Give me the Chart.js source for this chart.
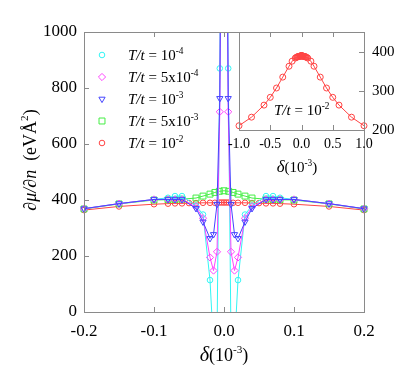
<!DOCTYPE html>
<html><head><meta charset="utf-8">
<script src="https://cdn.jsdelivr.net/npm/chart.js@4/dist/chart.umd.min.js"></script>
<style>
html,body{margin:0;padding:0;background:#fff;}
#wrap{position:relative;width:409px;height:384px;overflow:hidden;}
#main{position:absolute;left:0;top:0;}
#inset{position:absolute;left:200px;top:0;}
</style></head><body>
<div id="wrap"><canvas id="main" width="409" height="384"></canvas><canvas id="inset" width="209" height="180"></canvas></div>
<script>
// ---- data (delta in units of 10^-3, dmu/dn in eV A^2) ----
const deltaA = [-0.2,-0.15,-0.1,-0.08,-0.07,-0.06,-0.04,-0.03,-0.02,-0.015,-0.01,-0.006,0,0.006,0.01,0.015,0.02,0.03,0.04,0.06,0.07,0.08,0.1,0.15,0.2];
const cyanT1e4 = [369,387,402,408,414,414,380,348,114,-120,-100,870,3000,870,-100,-120,114,348,380,414,414,408,402,387,369];
const magT5e4  = [369,387,402,402,402,402,375,335,195,148,215,715,3000,715,215,148,195,335,375,402,402,402,402,387,369];
const blueT1e3 = [369,387,402,402,402,402,370,322,263,277,385,763,3000,763,385,277,263,322,370,402,402,402,402,387,369];
const deltaG = [-0.2,-0.15,-0.1,-0.08,-0.07,-0.06,-0.04,-0.03,-0.02,-0.013,-0.0067,0,0.0067,0.013,0.02,0.03,0.04,0.06,0.07,0.08,0.1,0.15,0.2];
const greenT5e3 = [368,386,400,401,402,403,407,414,421,427,431,433,431,427,421,414,407,403,402,401,400,386,368];
const deltaR = [-1,-0.8,-0.6,-0.5,-0.4,-0.3,-0.2,-0.15,-0.1,-0.08,-0.07,-0.06,-0.05,-0.04,-0.03,-0.02,-0.013,-0.0067,-0.0033,0,0.0033,0.0067,0.013,0.02,0.03,0.04,0.05,0.06,0.07,0.08,0.1,0.15,0.2,0.3,0.4,0.5,0.6,0.8,1];
const redT1e2 = [211,233,264,284,308,336,364,377,385,387,388,388,389,389,390,390,390,391,391,391,391,391,390,390,390,389,389,388,388,387,385,377,364,336,308,284,264,233,211];
const xTicksMain = [-0.2,-0.1,0,0.1,0.2];
const yTicksMain = [0,200,400,600,800,1000];
const xTicksInset = [-1,-0.5,0,0.5,1];
const yTicksInset = [200,300,400];
const legendLabels = [['5x','-4',''],['5x10','-4'],['10','-3'],['5x10','-3'],['10','-2']];

const SERIF = '"Liberation Serif","Times New Roman",serif';
const C = {cyan:'#33f5f5', mag:'#ff44ff', blue:'#4444ff', green:'#44ee44', red:'#ff4444'};
const GREY = '#8a8a8a';

function pts(xs, ys, lo, hi){
  const out=[];
  for(let i=0;i<xs.length;i++){ if(lo===undefined || (xs[i]>=lo-1e-9 && xs[i]<=hi+1e-9)) out.push({x:xs[i], y:ys[i]}); }
  return out;
}
function ds(label, xs, ys, color, style, r, order, rot, lo, hi){
  return {label, data:pts(xs,ys,lo,hi), borderColor:color, backgroundColor:'rgba(0,0,0,0)',
    pointBorderColor:color, pointBackgroundColor:'rgba(0,0,0,0)', pointStyle:style, pointRadius:r,
    pointRotation:rot||0, pointBorderWidth:1, borderWidth:1, tension:0, order,
    clip:{left:6,right:6,top:0,bottom:0}};
}

function drawRich(ctx, parts, x, y, size, align){
  const f = p => (p.i?'italic ':'') + (p.s ? (size*(p.sup?0.62:1)*p.s) : (size*(p.sup?0.62:1))).toFixed(1) + 'px ' + SERIF;
  let w=0;
  parts.forEach(p=>{ctx.font=f(p); p.w=ctx.measureText(p.t).width; w+=p.w;});
  let cx = align==='center' ? x-w/2 : x;
  ctx.textAlign='left'; ctx.textBaseline='alphabetic'; ctx.fillStyle='#000';
  parts.forEach(p=>{ctx.font=f(p); ctx.fillText(p.t, cx, p.sup ? y-size*0.42 : y); cx+=p.w;});
}

function marker(ctx, style, x, y, r, color, rot){
  ctx.save(); ctx.strokeStyle=color; ctx.lineWidth=1; ctx.beginPath();
  if(style==='circle'){ ctx.arc(x,y,r,0,Math.PI*2); }
  else if(style==='rectRot'){ ctx.moveTo(x,y-r); ctx.lineTo(x+r,y); ctx.lineTo(x,y+r); ctx.lineTo(x-r,y); ctx.closePath(); }
  else if(style==='rect'){ const h=r*Math.SQRT1_2; ctx.rect(x-h,y-h,2*h,2*h); }
  else if(style==='triangle'){ const s=rot?1:-1; ctx.moveTo(x, y - s*r*(-1)); 
    ctx.moveTo(x, y + (rot? r : -r)); ctx.lineTo(x + r*0.866, y + (rot? -r/2 : r/2)); ctx.lineTo(x - r*0.866, y + (rot? -r/2 : r/2)); ctx.closePath(); }
  ctx.stroke(); ctx.restore();
}

function framePlugin(sides){
  return {id:'frame'+Math.random(), afterDraw(chart){
    const ctx=chart.ctx, a=chart.chartArea, L=5;
    ctx.save(); ctx.strokeStyle=GREY; ctx.lineWidth=1;
    ctx.strokeRect(Math.round(a.left)+0.5, Math.round(a.top)+0.5, Math.round(a.right-a.left), Math.round(a.bottom-a.top));
    const xs=chart.scales.x, ys=chart.scales.y;
    ctx.beginPath();
    xs.ticks.forEach(t=>{ const px=Math.round(xs.getPixelForValue(t.value))+0.5;
      if(sides.includes('b')){ctx.moveTo(px,a.bottom); ctx.lineTo(px,a.bottom-L);}
      if(sides.includes('t')){ctx.moveTo(px,a.top); ctx.lineTo(px,a.top+L);} });
    ys.ticks.forEach(t=>{ const py=Math.round(ys.getPixelForValue(t.value))+0.5;
      if(sides.includes('l')){ctx.moveTo(a.left,py); ctx.lineTo(a.left+L,py);}
      if(sides.includes('r')){ctx.moveTo(a.right,py); ctx.lineTo(a.right-L,py);} });
    ctx.stroke(); ctx.restore();
  }};
}

const mainDatasets = [
  ds('T/t = 10^-4', deltaA, cyanT1e4, C.cyan, 'circle', 2.8, 2),
  ds('T/t = 5x10^-4', deltaA, magT5e4, C.mag, 'rectRot', 3.6, 1),
  ds('T/t = 10^-3', deltaA, blueT1e3, C.blue, 'triangle', 3.6, 0, 180),
  ds('T/t = 5x10^-3', deltaG, greenT5e3, C.green, 'rect', 4.2, 3),
  ds('T/t = 10^-2', deltaR, redT1e2, C.red, 'circle', 2.8, 4, 0, -0.2, 0.2)
];
const legendSpec = [
  {style:'circle', r:2.8, color:C.cyan, parts:[{t:'10'},{t:'-4',sup:true}]},
  {style:'rectRot', r:3.6, color:C.mag, parts:[{t:'5x10'},{t:'-4',sup:true}]},
  {style:'triangle', r:3.6, color:C.blue, rot:180, parts:[{t:'10'},{t:'-3',sup:true}]},
  {style:'rect', r:4.2, color:C.green, parts:[{t:'5x10'},{t:'-3',sup:true}]},
  {style:'circle', r:2.8, color:C.red, parts:[{t:'10'},{t:'-2',sup:true}]}
];

const mainDeco = {id:'mainDeco', afterDraw(chart){
  const ctx=chart.ctx;
  legendSpec.forEach((L,i)=>{
    const y=55+i*22;
    marker(ctx, L.style, 102, y, L.r, L.color, L.rot);
    drawRich(ctx, [{t:'T/t',i:true},{t:' = '}].concat(L.parts.map(p=>Object.assign({},p))), 128, y+5, 15, 'left');
  });
  // x title
  drawRich(ctx, [{t:'δ',i:true,s:1.12},{t:'(10'},{t:'-3',sup:true},{t:')'}], 224, 361, 18, 'center');
  // y title
  ctx.save(); ctx.translate(29,160); ctx.rotate(-Math.PI/2);
  drawRich(ctx, [{t:'∂μ/∂n',i:true},{t:'  (eVÅ'},{t:'2',sup:true},{t:')'}], 0, 7, 18, 'center');
  ctx.restore();
}};

new Chart(document.getElementById('main'), {
  type:'line',
  data:{datasets:mainDatasets},
  options:{
    responsive:false, animation:false, devicePixelRatio:1,
    layout:{padding:{top:32,right:45,left:0,bottom:0}},
    plugins:{legend:{display:false}, tooltip:{enabled:false}},
    scales:{
      x:{type:'linear', min:-0.2, max:0.2,
        afterBuildTicks:s=>{s.ticks=xTicksMain.map(v=>({value:v}));},
        afterFit:s=>{s.height=72;},
        grid:{display:false, drawTicks:false}, border:{display:false},
        ticks:{padding:9, color:'#000', font:{family:SERIF, size:17}, callback:v=>(Math.abs(v)<1e-9?0:v).toFixed(1), maxRotation:0}},
      y:{type:'linear', min:0, max:1000,
        afterBuildTicks:s=>{s.ticks=yTicksMain.map(v=>({value:v}));},
        afterFit:s=>{s.width=84;},
        grid:{display:false, drawTicks:false}, border:{display:false},
        ticks:{padding:7, color:'#000', font:{family:SERIF, size:17}, callback:v=>String(v)}}
    }
  },
  plugins:[framePlugin('btl'), mainDeco]
});

const insetBg = {id:'insetBg', beforeDraw(chart){
  const a=chart.chartArea, ctx=chart.ctx; ctx.save(); ctx.fillStyle='#fff';
  ctx.fillRect(a.left,a.top,a.right-a.left,a.bottom-a.top); ctx.restore(); }};
const insetDeco = {id:'insetDeco', afterDraw(chart){
  const ctx=chart.ctx;
  drawRich(ctx, [{t:'T/t',i:true},{t:' = 10'},{t:'-2',sup:true}], 74, 115, 15, 'left');
  drawRich(ctx, [{t:'δ',i:true,s:1.12},{t:'(10'},{t:'-3',sup:true},{t:')'}], 97, 172, 15, 'center');
}};

new Chart(document.getElementById('inset'), {
  type:'line',
  data:{datasets:[ds('T/t = 10^-2 inset', deltaR, redT1e2, C.red, 'circle', 3, 0)]},
  options:{
    responsive:false, animation:false, devicePixelRatio:1,
    layout:{padding:{top:32,right:0,left:39,bottom:0}},
    plugins:{legend:{display:false}, tooltip:{enabled:false}},
    scales:{
      x:{type:'linear', min:-1, max:1,
        afterBuildTicks:s=>{s.ticks=xTicksInset.map(v=>({value:v}));},
        afterFit:s=>{s.height=50;},
        grid:{display:false, drawTicks:false}, border:{display:false},
        ticks:{padding:6, color:'#000', font:{family:SERIF, size:14}, callback:v=>(Math.abs(v)<1e-9?0:v).toFixed(1), maxRotation:0}},
      y:{type:'linear', position:'right', min:200, max:452,
        afterBuildTicks:s=>{s.ticks=yTicksInset.map(v=>({value:v}));},
        afterFit:s=>{s.width=45;},
        grid:{display:false, drawTicks:false}, border:{display:false},
        ticks:{padding:8, color:'#000', font:{family:SERIF, size:15}, callback:v=>String(v)}}
    }
  },
  plugins:[insetBg, framePlugin('btr'), insetDeco]
});
</script>
</body></html>
